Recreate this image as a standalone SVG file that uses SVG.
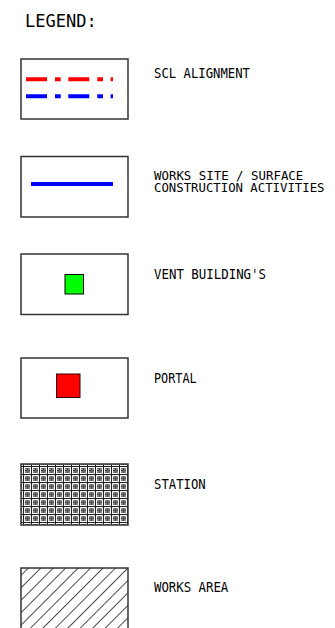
<svg xmlns="http://www.w3.org/2000/svg" width="335" height="628" viewBox="0 0 335 628">
<style>
.box{fill:#fff;stroke:#333;stroke-width:1.5}
.lbl{font-family:"DejaVu Sans Mono","Liberation Mono",monospace;font-size:13.2px;fill:#000}
.lbl2{font-family:"DejaVu Sans Mono","Liberation Mono",monospace;font-size:12.4px;fill:#000}
.title{font-family:"DejaVu Sans Mono","Liberation Mono",monospace;font-size:18.5px;fill:#000}
.scl{stroke-width:4;fill:none;stroke-dasharray:21 8 5.7 7.6}
</style>
<defs>
<pattern id="hatch" patternUnits="userSpaceOnUse" width="8.8" height="8.8" patternTransform="translate(28.7 567) rotate(45)">
<line x1="0" y1="-1" x2="0" y2="10" stroke="#000" stroke-width="1.4"/>
</pattern>
<pattern id="grid" patternUnits="userSpaceOnUse" width="8" height="8" x="22" y="465">
<rect width="8" height="8" fill="#858585"/>
<rect x="5" y="0" width="1" height="8" fill="#4a4a4a"/>
<rect x="0" y="5" width="8" height="1" fill="#4a4a4a"/>
<rect x="0" y="0" width="1" height="8" fill="#f4f4f4"/>
<rect x="2" y="0" width="1" height="8" fill="#f4f4f4"/>
<rect x="0" y="0" width="8" height="1" fill="#f4f4f4"/>
<rect x="0" y="2" width="8" height="1" fill="#f4f4f4"/>
<rect x="1" y="0" width="1" height="8" fill="#222"/>
<rect x="0" y="1" width="8" height="1" fill="#222"/>
</pattern>
</defs>
<rect width="335" height="628" fill="#fff"/>
<text class="title" x="25" y="26.7" textLength="71.7" lengthAdjust="spacingAndGlyphs">LEGEND:</text>
<g id="scl-alignment">
<rect class="box" x="21" y="59" width="107" height="60"/>
<line class="scl" x1="26" y1="79.3" x2="113" y2="79.3" stroke="#ff0000"/>
<line class="scl" x1="26" y1="96.3" x2="113" y2="96.3" stroke="#0000ff"/>
<text class="lbl" x="154" y="77.7" textLength="96" lengthAdjust="spacingAndGlyphs">SCL ALIGNMENT</text>
</g>
<g id="works-site">
<rect class="box" x="21" y="156.5" width="107" height="60.5"/>
<line x1="31" y1="184" x2="113" y2="184" stroke="#0000ff" stroke-width="4"/>
<text class="lbl2" x="154" y="180.2" textLength="149.3" lengthAdjust="spacingAndGlyphs">WORKS SITE / SURFACE</text>
<text class="lbl2" x="154" y="192.4" textLength="170.5" lengthAdjust="spacingAndGlyphs">CONSTRUCTION ACTIVITIES</text>
</g>
<g id="vent-building">
<rect class="box" x="21" y="254" width="107" height="60.5"/>
<rect x="65" y="274.5" width="18.5" height="19.5" fill="#00ff00" stroke="#000" stroke-width="1"/>
<text class="lbl" x="154" y="279.3" textLength="112" lengthAdjust="spacingAndGlyphs">VENT BUILDING'S</text>
</g>
<g id="portal">
<rect class="box" x="21" y="358" width="107" height="60"/>
<rect x="56.5" y="374" width="23.5" height="23.5" fill="#ff0000" stroke="#330000" stroke-width="1"/>
<text class="lbl" x="154" y="383.3" textLength="42.7" lengthAdjust="spacingAndGlyphs">PORTAL</text>
</g>
<g id="station">
<rect class="box" x="21" y="464" width="107" height="61" style="fill:url(#grid)"/>
<text class="lbl" x="154" y="488.7" textLength="51.7" lengthAdjust="spacingAndGlyphs">STATION</text>
</g>
<g id="works-area">
<rect class="box" x="21" y="568" width="107" height="80" style="fill:url(#hatch)"/>
<text class="lbl" x="154" y="592.3" textLength="74.3" lengthAdjust="spacingAndGlyphs">WORKS AREA</text>
</g>
<g id="connectors"/>
</svg>
